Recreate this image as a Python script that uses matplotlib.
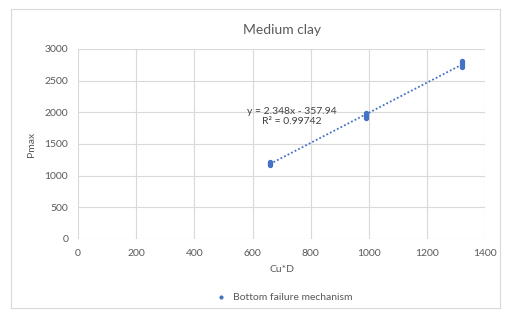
import numpy as np
import matplotlib.pyplot as plt

plt.rcParams['font.family'] = ['Lato', 'DejaVu Sans']

# data
cu_d = [660, 660, 660, 660, 990, 990, 990, 990, 1320, 1320, 1320, 1320]
pmax = [1170, 1185, 1200, 1212, 1915, 1940, 1965, 1990, 2715, 2745, 2780, 2810]
eq_label = "y = 2.348x - 357.94"
r2_label = "R² = 0.99742"

blue = '#4472C4'
grey = '#595959'

fig = plt.figure(figsize=(5.11, 3.16), dpi=100)
ax = fig.add_axes([0.1526, 0.244, 0.797, 0.601])

ax.scatter(cu_d, pmax, s=8, color=blue, zorder=3)

# linear trendline
k, b = np.polyfit(cu_d, pmax, 1)
xs = np.array([min(cu_d), max(cu_d)])
ax.plot(xs, k * xs + b, color=blue, lw=1.3, ls=(0, (1, 1.2)), zorder=2)

ax.text(735, 1930, eq_label + "\n" + r2_label, ha='center', va='center',
        fontsize=7.5, color='#404040', linespacing=1.2)

ax.set_xlim(0, 1400)
ax.set_ylim(0, 3000)
ax.set_xticks(range(0, 1401, 200))
ax.set_yticks(range(0, 3001, 500))
ax.grid(True, color='#d9d9d9', lw=0.8)
ax.set_axisbelow(True)
for s in ax.spines.values():
    s.set_visible(False)
ax.tick_params(length=0, labelsize=7.5, colors=grey, pad=7)

ax.set_title("Medium clay", fontsize=10, color=grey, pad=11)
ax.set_xlabel("Cu*D", fontsize=7.5, color=grey, labelpad=5)
ax.set_ylabel("Pmax", fontsize=7.5, color=grey, labelpad=6)

ax.legend(["Bottom failure mechanism"], loc='upper center', bbox_to_anchor=(0.5, -0.235),
          frameon=False, fontsize=7.5, labelcolor=grey, markerscale=0.7, handletextpad=0.1)

fig.patches.append(plt.Rectangle((0.022, 0.025), 0.956, 0.945, transform=fig.transFigure,
                                 fill=False, edgecolor='#d9d9d9', lw=0.8))

fig.savefig('out.png', dpi=100)
